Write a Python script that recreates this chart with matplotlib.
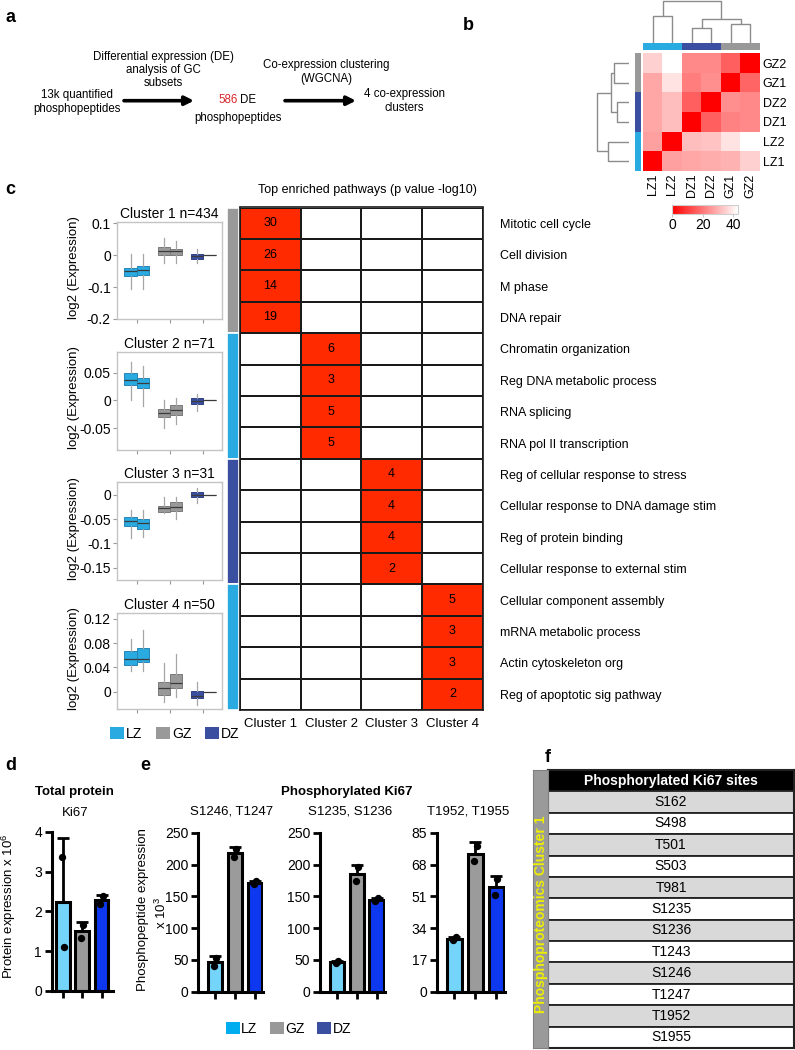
import numpy as np
import matplotlib
matplotlib.use("Agg")
import matplotlib.pyplot as plt
from matplotlib.colors import LinearSegmentedColormap, ListedColormap
from matplotlib.patches import Patch

plt.rcParams['font.family'] = ['Liberation Sans', 'DejaVu Sans']
plt.rcParams['font.size'] = 9
plt.rcParams['axes.unicode_minus'] = False
plt.rcParams['mathtext.default'] = 'regular'

# ---------------- data ----------------
zones = ["LZ", "GZ", "DZ"]

# panel b: sample distance heatmap
hm_cols = ["LZ1", "LZ2", "DZ1", "DZ2", "GZ1", "GZ2"]
hm_rows = ["GZ2", "GZ1", "DZ2", "DZ1", "LZ2", "LZ1"]
hm_dist = [[35, 43, 23, 23, 16, 0],
           [28, 38, 21, 24, 0, 17],
           [28, 32, 16, 0, 24, 23],
           [28, 32, 0, 16, 22, 23],
           [27, 0, 32, 33, 38, 43],
           [0, 27, 28, 29, 30, 35]]
hm_col_groups = ["LZ", "LZ", "DZ", "DZ", "GZ", "GZ"]
hm_row_groups = ["GZ", "GZ", "DZ", "DZ", "LZ", "LZ"]
# dendrogram merges (leaf indices in hm_cols order), merge height
dendro_merges = [(0, 1, 27), (2, 3, 15), (4, 5, 19), (7, 8, 24), (6, 9, 42)]
cbar_ticks = [0, 20, 40]

# panel c: enrichment table
pathways = ["Mitotic cell cycle", "Cell division", "M phase", "DNA repair",
            "Chromatin organization", "Reg DNA metabolic process", "RNA splicing",
            "RNA pol II transcription", "Reg of cellular response to stress",
            "Cellular response to DNA damage stim", "Reg of protein binding",
            "Cellular response to external stim", "Cellular component assembly",
            "mRNA metabolic process", "Actin cytoskeleton org",
            "Reg of apoptotic sig pathway"]
pathway_cluster = [1, 1, 1, 1, 2, 2, 2, 2, 3, 3, 3, 3, 4, 4, 4, 4]
pathway_logp = [30, 26, 14, 19, 6, 3, 5, 5, 4, 4, 4, 2, 5, 3, 3, 2]
cluster_names = ["Cluster 1", "Cluster 2", "Cluster 3", "Cluster 4"]
cluster_n = [434, 71, 31, 50]
cluster_zone = ["GZ", "LZ", "DZ", "LZ"]

# panel c: cluster box plots  (whislo, q1, median, q3, whishi)
box_samples = ["LZ1", "LZ2", "GZ1", "GZ2", "DZ1", "DZ2"]
cluster1_box = [(-0.105, -0.066, -0.049, -0.0415, 0.003),
                (-0.105, -0.063, -0.045, -0.034, 0.004),
                (-0.023, 0.002, 0.0137, 0.0246, 0.054),
                (-0.023, 0.001, 0.0118, 0.019, 0.046),
                (-0.026, -0.0105, -0.004, 0.003, 0.019),
                (0.0, 0.0, 0.0, 0.0, 0.0)]
cluster2_box = [(0.0, 0.028, 0.037, 0.049, 0.069),
                (-0.01, 0.022, 0.032, 0.040, 0.062),
                (-0.05, -0.030, -0.0225, -0.015, 0.0),
                (-0.043, -0.027, -0.018, -0.009, 0.004),
                (-0.0195, -0.0055, -0.001, 0.004, 0.012),
                (0.0, 0.0, 0.0, 0.0, 0.0)]
cluster3_box = [(-0.0897, -0.0646, -0.0535, -0.0455, -0.0315),
                (-0.087, -0.071, -0.059, -0.050, -0.0315),
                (-0.037, -0.036, -0.028, -0.023, -0.004),
                (-0.049, -0.0336, -0.0247, -0.0157, -0.005),
                (-0.016, -0.004, 0.0, 0.006, 0.013),
                (0.0, 0.0, 0.0, 0.0, 0.0)]
cluster4_box = [(0.0347, 0.0441, 0.0545, 0.0678, 0.0866),
                (0.0347, 0.0496, 0.0545, 0.0717, 0.102),
                (-0.0165, -0.0055, 0.0066, 0.0155, 0.047),
                (-0.0093, 0.0066, 0.0139, 0.029, 0.062),
                (-0.022, -0.011, -0.0066, 0.001, 0.0165),
                (0.0, 0.0, 0.0, 0.0, 0.0)]
cluster_yticks = [[-0.2, -0.1, 0, 0.1], [-0.05, 0, 0.05],
                  [-0.15, -0.1, -0.05, 0], [0, 0.04, 0.08, 0.12]]
cluster_yticklabels = [["-0.2", "-0.1", "0", "0.1"], ["-0.05", "0", "0.05"],
                       ["-0.15", "-0.1", "-0.05", "0"], ["0", "0.04", "0.08", "0.12"]]

# panel d: total Ki67 protein (x 10^6), replicate values per zone
d_points = [[3.37, 1.10], [1.34, 1.66], [2.18, 2.38]]
d_yticks = [0, 1, 2, 3, 4]

# panel e: phosphorylated Ki67 (x 10^3)
e_titles = ["S1246, T1247", "S1235, S1236", "T1952, T1955"]
e_points = [[[40, 53], [212.6, 225.4], [169, 174]],
            [[45, 48], [174.4, 195.6], [143, 147]],
            [[27.5, 29], [69.8, 78.2], [51.8, 60.2]]]
e_yticks = [[0, 50, 100, 150, 200, 250], [0, 50, 100, 150, 200, 250],
            [0, 17, 34, 51, 68, 85]]

# panel f
ki67_sites = ["S162", "S498", "T501", "S503", "T981", "S1235", "S1236",
              "T1243", "S1246", "T1247", "T1952", "S1955"]

# ---------------- styles ----------------
zone_colors = {"LZ": "#29ABE2", "GZ": "#999999", "DZ": "#3A4FA0"}
zone_edge = {"LZ": "#2585B5", "GZ": "#7A7A7A", "DZ": "#2E3F85"}
bar_colors = {"LZ": "#74D4FA", "GZ": "#9B9B9B", "DZ": "#0D38F0"}
legend_e_colors = {"LZ": "#00AEEF", "GZ": "#999999", "DZ": "#3A4FA0"}
cell_red = "#FF2A00"

W, H = 795, 1050
fig = plt.figure(figsize=(W / 100, H / 100), dpi=100)


def ax_px(l, t, r, b, **kw):
    return fig.add_axes([l / W, 1 - b / H, (r - l) / W, (b - t) / H], **kw)


ov = fig.add_axes([0, 0, 1, 1], zorder=-5)
ov.set_xlim(0, W)
ov.set_ylim(H, 0)
ov.axis('off')


def txt(x, y, s, **kw):
    kw.setdefault('ha', 'center')
    kw.setdefault('va', 'center')
    return ov.text(x, y, s, **kw)


# ---------------- panel labels ----------------
for lab, (x, y) in {"a": (5, 18), "b": (463, 25), "c": (5, 189),
                    "d": (5, 765), "e": (140, 765), "f": (545, 758)}.items():
    txt(x, y, lab, fontsize=13, fontweight='bold', ha='left')

# ---------------- panel a ----------------
fa = 8.3
txt(77, 102, "13k quantified\nphosphopeptides", fontsize=fa, linespacing=1.15)
txt(163, 70, "Differential expression (DE)\nanalysis of GC\nsubsets", fontsize=fa, linespacing=1.15)
txt(237.5, 100, "586", fontsize=fa, ha='right', color='#D7262B')
txt(240, 100, "DE", fontsize=fa, ha='left')
txt(237.5, 118, "phosphopeptides", fontsize=fa)
txt(326, 72, "Co-expression clustering\n(WGCNA)", fontsize=fa, linespacing=1.15)
txt(404, 101, "4 co-expression\nclusters", fontsize=fa, linespacing=1.15)
for x0, x1 in [(124, 194), (285, 356)]:
    ov.annotate('', xy=(x1, 100.7), xytext=(x0, 100.7),
                arrowprops=dict(arrowstyle='-|>', lw=2.6, color='black',
                                mutation_scale=13, shrinkA=0, shrinkB=0))

# ---------------- panel b ----------------
red_white = LinearSegmentedColormap.from_list("rw", ["#FF0000", "#FFFFFF"])
hm_ax = ax_px(643, 53.3, 760, 171)
im = hm_ax.imshow(np.array(hm_dist, dtype=float), cmap=red_white, vmin=0, vmax=43,
                  aspect='auto', interpolation='nearest')
hm_ax.set_xticks(range(len(hm_cols)))
hm_ax.set_xticklabels(hm_cols, rotation=90, fontsize=9)
hm_ax.yaxis.tick_right()
hm_ax.set_yticks(range(len(hm_rows)))
hm_ax.set_yticklabels(hm_rows, fontsize=9)
hm_ax.tick_params(length=0, pad=2)
for s in hm_ax.spines.values():
    s.set_visible(False)

zone_index = {z: i for i, z in enumerate(zones)}
zone_cmap = ListedColormap([zone_colors[z] for z in zones])
colbar_ax = ax_px(643, 43.3, 760, 50)
colbar_ax.imshow(np.array([[zone_index[g] for g in hm_col_groups]]), cmap=zone_cmap,
                 vmin=0, vmax=2, aspect='auto', interpolation='nearest')
colbar_ax.axis('off')
rowbar_ax = ax_px(635, 53.3, 640.5, 171)
rowbar_ax.imshow(np.array([[zone_index[g]] for g in hm_row_groups]), cmap=zone_cmap,
                 vmin=0, vmax=2, aspect='auto', interpolation='nearest')
rowbar_ax.axis('off')


def draw_dendro(ax, merges, n_leaves, vertical):
    pos = {i: float(i) for i in range(n_leaves)}
    hgt = {i: 0.0 for i in range(n_leaves)}
    node = n_leaves
    for a, b, h in merges:
        xs = [pos[a], pos[a], pos[b], pos[b]]
        ys = [hgt[a], h, h, hgt[b]]
        if vertical:
            ax.plot(xs, ys, color='#8c8c8c', lw=1.0, solid_capstyle='butt')
        else:
            ax.plot(ys, xs, color='#8c8c8c', lw=1.0, solid_capstyle='butt')
        pos[node] = (pos[a] + pos[b]) / 2
        hgt[node] = h
        node += 1


cd_ax = ax_px(643, 0, 760, 43.3)
draw_dendro(cd_ax, dendro_merges, len(hm_cols), True)
cd_ax.set_xlim(-0.5, len(hm_cols) - 0.5)
cd_ax.set_ylim(0, 43)
cd_ax.axis('off')

rd_ax = ax_px(596, 53.3, 629, 171)
draw_dendro(rd_ax, dendro_merges, len(hm_cols), False)
rd_ax.set_ylim(-0.5, len(hm_cols) - 0.5)
rd_ax.set_xlim(43, 0)
rd_ax.axis('off')

cax = ax_px(672, 205, 738, 214)
cb = fig.colorbar(im, cax=cax, orientation='horizontal', ticks=cbar_ticks)
cb.outline.set_edgecolor('#cfcfcf')
cb.outline.set_linewidth(0.8)
cax.tick_params(length=2, width=0.6, color='#bbbbbb', labelsize=10, pad=1)

# ---------------- panel c: enrichment grid ----------------
txt(367, 190, "Top enriched pathways (p value -log10)", fontsize=9)
n_rows = len(pathways)
n_cl = len(cluster_names)
grid_top, grid_bot = 207.5, 710
grid_ax = ax_px(240, grid_top, 482.7, grid_bot)
mat = np.zeros((n_rows, n_cl))
for i, c in enumerate(pathway_cluster):
    mat[i, c - 1] = 1
grid_ax.pcolormesh(np.arange(n_cl + 1), np.arange(n_rows + 1), mat,
                   cmap=ListedColormap(['white', cell_red]), vmin=0, vmax=1,
                   edgecolors='#1a1a1a', linewidth=1.2)
for i, (c, v) in enumerate(zip(pathway_cluster, pathway_logp)):
    grid_ax.text(c - 0.5, i + 0.5, str(v), ha='center', va='center', fontsize=9)
grid_ax.set_xlim(0, n_cl)
grid_ax.set_ylim(n_rows, 0)
grid_ax.set_xticks(np.arange(n_cl) + 0.5)
grid_ax.set_xticklabels(cluster_names, fontsize=9.5)
grid_ax.yaxis.tick_right()
grid_ax.set_yticks(np.arange(n_rows) + 0.5)
grid_ax.set_yticklabels(pathways, fontsize=9)
grid_ax.tick_params(axis='x', length=0, pad=6)
grid_ax.tick_params(axis='y', length=0, pad=12.5)
for s in grid_ax.spines.values():
    s.set_linewidth(1.2)
    s.set_color('#1a1a1a')

side_ax = ax_px(226.7, grid_top, 239, grid_bot)
rows_per = [pathway_cluster.count(k + 1) for k in range(n_cl)]
starts = np.concatenate([[0], np.cumsum(rows_per)[:-1]])
side_ax.barh(starts + np.array(rows_per) / 2, 1, height=rows_per, left=0,
             color=[zone_colors[z] for z in cluster_zone], edgecolor='white', linewidth=1.2)
side_ax.set_ylim(n_rows, 0)
side_ax.set_xlim(0, 1)
side_ax.axis('off')

# ---------------- panel c: box plots ----------------
box_axes_px = [(117, 221.7, 222, 319), (117, 352, 222, 450),
               (117, 482.3, 222, 580), (117, 613.3, 222, 709)]
cluster_boxes = [cluster1_box, cluster2_box, cluster3_box, cluster4_box]
box_zone = [s[:2] for s in box_samples]
group_pos = {"LZ": 1, "GZ": 2, "DZ": 3}
offsets = [-0.19, 0.19]
cluster_ylims = [(-0.2, 0.105), (-0.089, 0.087), (-0.175, 0.0255), (-0.0286, 0.1294)]
for k in range(n_cl):
    l, t, r, b = box_axes_px[k]
    ax = ax_px(l, t, r, b)
    stats = [dict(whislo=v[0], q1=v[1], med=v[2], q3=v[3], whishi=v[4], fliers=[])
             for v in cluster_boxes[k]]
    positions = []
    seen = {}
    for z in box_zone:
        j = seen.get(z, 0)
        positions.append(group_pos[z] + offsets[j])
        seen[z] = j + 1
    res = ax.bxp(stats, positions=positions, widths=0.37, patch_artist=True,
                 showfliers=False, showcaps=False,
                 whiskerprops=dict(color='#a6a6a6', lw=0.9),
                 medianprops=dict(color='#3a3a3a', lw=0.9),
                 boxprops=dict(lw=0.7))
    for patch, z in zip(res['boxes'], box_zone):
        patch.set_facecolor(zone_colors[z])
        patch.set_edgecolor(zone_edge[z])
    ax.set_xlim(0.4, 3.57)
    ax.set_ylim(*cluster_ylims[k])
    ax.set_xticks([1, 2, 3])
    ax.set_xticklabels([])
    ax.set_yticks(cluster_yticks[k])
    ax.set_yticklabels(cluster_yticklabels[k], fontsize=10)
    ax.tick_params(length=3, width=0.8, color='#999999', pad=1.5)
    for s in ax.spines.values():
        s.set_color('#c4c4c4')
        s.set_linewidth(1.0)
    ax.set_title(f"{cluster_names[k]} n={cluster_n[k]}", fontsize=10, pad=3)
    txt(74, (t + b) / 2 - 3, "log2 (Expression)", fontsize=9.5, rotation=90)

leg_c = fig.legend([Patch(facecolor=zone_colors[z]) for z in zones], zones,
                   loc='center left', bbox_to_anchor=(110 / W, 1 - 734 / H), ncol=3,
                   frameon=False, handlelength=1.0, handleheight=1.0, handletextpad=0.15,
                   columnspacing=1.0, fontsize=10, borderaxespad=0, borderpad=0)

# ---------------- panels d and e: bar charts ----------------
txt(74, 792, "Total protein", fontsize=9.5, fontweight='bold')
txt(75, 813, "Ki67", fontsize=9.5)
txt(347, 792, "Phosphorylated Ki67", fontsize=9.5, fontweight='bold')


def bar_panel(l, t, r, b, points, yticks, xlim):
    ax = ax_px(l, t, r, b)
    pts = [np.array(p, dtype=float) for p in points]
    means = [p.mean() for p in pts]
    sds = [p.std(ddof=1) for p in pts]
    x = np.arange(len(zones))
    ax.bar(x, means, width=0.72, color=[bar_colors[z] for z in zones],
           edgecolor='black', linewidth=2.2, zorder=2)
    ax.errorbar(x, means, yerr=[np.zeros(len(x)), sds], fmt='none', ecolor='black',
                elinewidth=2.0, capsize=4, capthick=2.0, zorder=3)
    for xi, p in zip(x, pts):
        ax.scatter(xi + np.linspace(-0.06, 0.06, len(p)), p, s=28, color='black',
                   zorder=4, linewidths=0)
    ax.set_xlim(*xlim)
    ax.set_ylim(yticks[0], yticks[-1])
    ax.set_yticks(yticks)
    ax.set_xticks(x)
    ax.set_xticklabels([])
    for side in ['top', 'right']:
        ax.spines[side].set_visible(False)
    for side in ['left', 'bottom']:
        ax.spines[side].set_linewidth(2.2)
    ax.tick_params(axis='both', length=5, width=2.0, labelsize=10, pad=2)
    ax.patch.set_alpha(0)
    return ax


bar_panel(51.7, 831.7, 113, 991, d_points, d_yticks, (-0.6, 2.6))
txt(9, 906, "Protein expression x 10$^6$", fontsize=9.5, rotation=90)

e_px = [(198.3, 833, 263, 991.5), (320, 833, 385, 991.5), (436.7, 833, 505, 991.5)]
e_title_x = [232, 350, 468]
for i in range(3):
    l, t, r, b = e_px[i]
    bar_panel(l, t, r, b, e_points[i], e_yticks[i], (-0.85, 2.42))
    txt(e_title_x[i], 812, e_titles[i], fontsize=9.5)
txt(143, 910, "Phosphopeptide expression", fontsize=9.5, rotation=90)
txt(161, 913, "x 10$^3$", fontsize=9.5, rotation=90)

leg_e = fig.legend([Patch(facecolor=legend_e_colors[z]) for z in zones], zones,
                   loc='center left', bbox_to_anchor=(226 / W, 1 - 1029 / H), ncol=3,
                   frameon=False, handlelength=1.0, handleheight=1.0, handletextpad=0.1,
                   columnspacing=0.9, fontsize=10, borderaxespad=0, borderpad=0)

# ---------------- panel f: table ----------------
tab = ax_px(548, 770, 794, 1048)
nrow = len(ki67_sites) + 1
row_colors = ['black'] + ['#D9D9D9' if i % 2 == 0 else 'white' for i in range(len(ki67_sites))]
tab.barh(np.arange(nrow) + 0.5, 1, height=1, left=0, color=row_colors,
         edgecolor='#222222', linewidth=1.3)
tab.text(0.5, 0.5, "Phosphorylated Ki67 sites", color='white', fontweight='bold',
         ha='center', va='center', fontsize=10)
for i, s in enumerate(ki67_sites):
    tab.text(0.5, i + 1.5, s, ha='center', va='center', fontsize=10)
tab.set_ylim(nrow, 0)
tab.set_xlim(0, 1)
tab.set_xticks([])
tab.set_yticks([])
for s in tab.spines.values():
    s.set_linewidth(1.5)
    s.set_color('#222222')

side_f = ax_px(533, 770, 548, 1048)
side_f.set_facecolor('#9A9A9A')
side_f.set_xticks([])
side_f.set_yticks([])
for s in side_f.spines.values():
    s.set_color('#808080')
side_f.text(0.5, 0.48, "Phosphoproteomics Cluster 1", rotation=90, color='#EEF000',
            fontweight='bold', ha='center', va='center', fontsize=10,
            transform=side_f.transAxes)

fig.savefig("out.png", dpi=100)
